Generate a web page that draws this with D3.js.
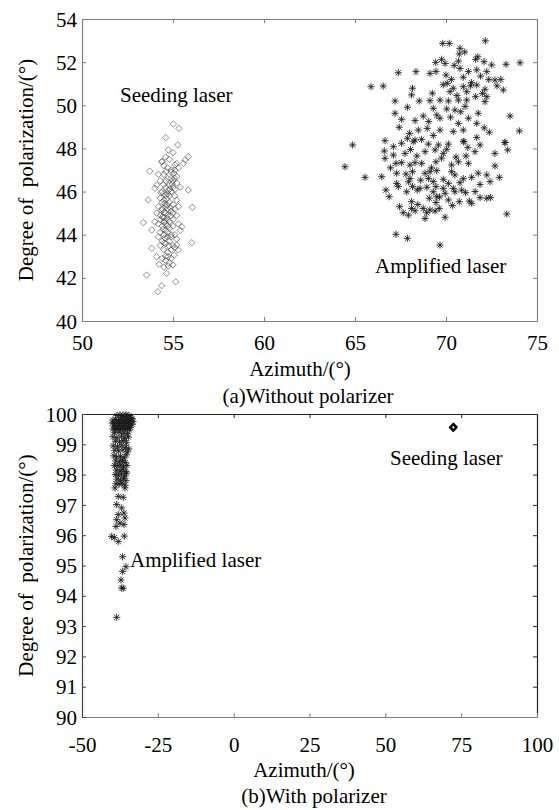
<!DOCTYPE html>
<html>
<head>
<meta charset="utf-8">
<script src="https://cdn.jsdelivr.net/npm/d3@7"></script>
<style>
  body { margin: 0; background: #fff; }
  svg text { font-family: "Liberation Serif", "Times New Roman", serif; fill: #000; }
</style>
</head>
<body>
<svg id="chart" width="559" height="810"></svg>
<script>
// (a) Without polarizer: [azimuth, degree of polarization]
var seedingA = [
  [55.02,49.13],[55.33,48.93],[54.60,48.50],[55.26,48.16],[54.74,47.93],[55.84,47.62],[55.66,47.46],
  [55.57,47.31],[55.11,47.23],[54.38,47.38],[53.72,46.95],[56.06,45.27],[56.03,43.63],[53.37,44.56],
  [53.83,44.22],[53.83,43.37],[55.20,43.52],[53.55,42.13],[55.15,41.82],[54.38,41.64],[54.16,41.36],
  [54.65,42.21],[54.74,42.55],[54.23,42.63],[54.10,42.98],[55.07,43.06],[55.29,43.29],[54.01,46.15],
  [53.64,45.61],[55.84,46.07],[55.48,44.37],
  [54.5,46.8],[54.7,46.6],[54.9,46.9],[55.1,47.0],[55.3,47.1],[55.0,46.5],[55.2,46.7],[54.6,46.2],
  [54.8,46.3],[55.0,46.2],[55.2,46.4],[54.4,46.0],[54.7,45.9],[54.9,46.0],[55.1,45.8],[54.3,45.7],
  [54.5,45.6],[54.8,45.5],[55.0,45.4],[55.2,45.6],[54.2,45.3],[54.4,45.2],[54.6,45.3],[54.9,45.1],
  [55.1,45.2],[54.3,44.9],[54.5,44.8],[54.7,44.9],[55.0,44.7],[55.2,44.9],[54.2,44.5],[54.4,44.4],
  [54.6,44.5],[54.8,44.3],[55.0,44.4],[55.3,44.5],[54.3,44.1],[54.5,44.0],[54.7,44.1],[54.9,43.9],
  [55.1,44.0],[54.4,43.7],[54.6,43.6],[54.8,43.7],[55.0,43.5],[54.5,43.3],[54.7,43.2],[54.9,43.3],
  [54.4,42.9],[54.6,42.8],[54.8,42.7],[54.1,45.0],[54.0,44.6],[54.1,46.3],[54.3,46.5],[54.5,47.2],
  [54.8,47.5],[55.0,47.8],[54.6,47.6],[54.9,47.0],[55.4,46.2],[55.3,45.3],[55.4,44.2],[55.2,43.8],
  [54.3,43.5],[54.2,46.8],[54.6,44.2],[54.7,45.2],[54.5,45.9],[54.6,46.5],[54.8,44.6],[54.4,45.5],
  [54.9,44.0],[54.7,43.9],[55.1,46.1],[54.5,44.6],[54.8,45.8],[54.6,45.0],[54.3,44.7],[55.0,45.0],
  [54.9,46.6],[55.2,47.3],[54.7,47.1],[54.4,47.4],[55.1,43.4],[54.2,43.9],[54.6,43.0],[54.9,42.9],
  [54.5,42.5],[55.0,42.6],[54.55,45.45],[54.65,44.75],[54.75,46.05],[54.45,44.25],[54.85,45.25],
  [54.35,45.95],[54.95,46.35],[54.55,43.85],[55.05,46.85],[54.65,45.65],[54.52,45.05],[54.62,45.82],
  [54.72,44.42],[54.42,44.82],[54.82,46.12],[54.58,44.62],[54.68,45.38],[54.48,46.32],[54.78,43.48],
  [54.38,45.12],[54.88,44.88],[55.08,46.62],[54.62,46.92],[54.52,43.62],[54.72,42.98]
];
var amplifiedA = [
  [69.82,52.87],[70.18,52.87],[72.16,52.99],[70.77,52.64],[70.73,52.38],[71.03,52.47],[69.76,52.13],
  [69.43,51.99],[69.95,51.94],[70.68,52.05],[71.63,52.13],[72.09,52.02],[72.51,51.87],[73.30,51.90],
  [74.07,51.97],[67.38,51.51],[68.35,51.56],[69.12,51.48],[69.45,51.57],[70.00,51.40],[70.77,51.71],
  [71.23,51.56],[71.69,51.64],[72.24,51.56],[65.88,50.86],[66.55,50.89],[70.07,51.02],[70.40,50.79],
  [70.95,50.86],[71.69,50.94],[72.14,50.74],[72.69,51.17],[73.01,51.20],[73.15,50.71],[70.22,50.63],
  [71.14,50.63],[71.63,50.40],[72.24,50.40],[68.16,50.79],[68.11,50.48],[69.25,50.56],[67.20,50.20],
  [68.53,50.20],[69.12,50.21],[69.67,50.24],[70.13,50.20],[70.68,50.24],[71.14,50.24],[72.14,50.17],
  [67.88,49.91],[69.30,49.86],[70.04,49.83],[70.49,49.78],[67.20,49.63],[68.75,49.50],[69.49,49.55],
  [70.81,49.70],[71.77,49.63],[73.52,49.50],[67.56,49.35],[68.30,49.29],[69.67,49.40],[71.23,49.40],
  [70.68,49.16],[71.69,49.16],[67.43,48.98],[68.48,48.85],[68.97,48.93],[69.67,48.85],[70.40,48.78],
  [70.95,48.85],[72.38,48.75],[74.03,48.81],[66.65,48.36],[67.88,48.47],[68.30,48.39],[68.66,48.42],
  [71.69,48.51],[73.24,48.28],[70.99,48.33],
  [70.45,51.85],[70.95,51.30],[71.40,51.05],[71.90,51.35],[72.35,51.20],[70.60,50.45],[71.35,50.90],
  [72.00,50.55],[70.30,51.20],[69.85,50.95],[71.75,52.25],[72.80,50.90],[71.05,49.95],[70.25,49.45],
  [69.05,49.25],[68.00,48.70],[69.30,48.60],[72.10,48.95],[71.20,48.05],[70.55,47.60],[69.75,47.55],
  [68.05,47.95],[66.95,47.10],[67.95,46.45],[68.95,46.20],[69.65,45.75],[70.35,45.35],[68.45,45.40],
  [68.85,44.75],[67.45,45.30],[71.60,46.00],[70.95,46.60],[69.20,47.10],[68.40,47.65],
  [64.87,48.16],[64.45,47.15],[67.11,48.08],[67.56,48.24],[68.20,48.31],[69.03,48.20],[69.58,48.16],
  [70.13,48.20],[70.95,48.31],[71.87,48.16],[73.24,48.27],[66.61,47.88],[67.11,47.69],[67.75,47.77],
  [68.85,47.85],[69.40,47.93],[69.85,47.77],[70.04,47.96],[71.10,47.65],[71.59,47.85],[72.69,47.77],
  [73.39,47.93],[66.65,47.54],[67.25,47.31],[67.56,47.34],[68.02,47.23],[68.30,47.34],[68.66,47.31],
  [69.45,47.38],[70.31,47.23],[70.68,47.38],[71.23,47.31],[72.69,47.19],[65.55,46.66],[66.47,46.69],
  [67.29,46.85],[67.80,46.81],[68.16,46.92],[68.85,46.85],[69.12,46.92],[69.49,46.97],[70.31,46.92],
  [70.49,46.77],[71.41,46.66],[71.77,46.85],[72.24,46.77],[72.93,46.66],[68.02,46.61],[68.61,46.53],
  [69.03,46.61],[69.30,46.46],[69.85,46.57],[70.13,46.38],[70.77,46.41],[72.42,46.46],[67.29,46.38],
  [67.38,46.23],[68.16,46.23],[68.57,46.15],[69.45,46.23],[69.85,46.15],[70.40,46.15],[70.86,46.07],
  [71.87,46.33],[66.70,46.07],[67.84,45.99],[68.42,46.07],[69.30,45.99],[69.95,45.92],[70.49,45.99],
  [71.08,45.95],[66.88,45.76],[69.08,45.69],[69.49,45.76],[70.13,45.61],[70.73,45.53],[71.28,45.56],
  [71.87,45.72],[72.24,45.69],[72.45,45.72],[68.11,45.53],[69.45,45.49],[71.41,45.46],[68.11,45.22],
  [68.30,45.11],[68.75,45.22],[69.12,45.15],[69.63,45.22],[67.65,45.02],[67.93,44.91],[68.94,45.02],
  [69.40,45.10],[69.95,44.81],[73.34,44.96],[67.25,44.02],[67.88,43.83],[69.67,43.52]
];
// (b) With polarizer
var seedingB = [[72.3,99.56],[72.5,99.58],[72.4,99.54]];
var amplifiedB = [
  [-38.5,99.95],[-37.5,99.97],[-36.5,99.96],[-35.5,99.98],[-34.5,99.95],[-37,99.9],[-36,99.92],
  [-35,99.9],[-34,99.88],[-33.5,99.85],[-39.8,99.8],[-39,99.82],[-38,99.78],[-37.2,99.8],[-36.3,99.79],
  [-35.4,99.81],[-34.6,99.77],[-33.8,99.8],[-33.2,99.75],[-40,99.7],[-39.2,99.68],[-38.4,99.72],
  [-37.6,99.7],[-36.8,99.69],[-36,99.71],[-35.2,99.7],[-34.3,99.68],[-33.5,99.66],[-39.5,99.6],
  [-38.7,99.58],[-37.9,99.62],[-37.1,99.6],[-36.4,99.58],[-35.6,99.61],[-34.8,99.59],[-34,99.56],
  [-39.8,99.5],[-39,99.48],[-38.2,99.52],[-37.4,99.49],[-36.6,99.5],[-35.8,99.48],[-35,99.52],
  [-34.3,99.47],[-39.3,99.38],[-37.8,99.4],[-36.2,99.36],[-35.0,99.35],[-39.8,99.25],[-38.5,99.22],
  [-37,99.27],[-35.8,99.2],[-34.7,99.24],[-39.0,99.1],[-37.6,99.08],[-36.4,99.12],[-35.3,99.05],
  [-39.7,98.95],[-38.3,98.92],[-36.9,98.97],[-35.6,98.9],[-39.2,98.8],[-37.9,98.78],[-36.5,98.82],
  [-35.1,98.75],[-34.6,98.85],[-39.5,98.62],[-38.6,98.58],[-37.3,98.6],[-36.1,98.55],[-35.4,98.65],
  [-38.9,98.45],[-37.7,98.42],[-36.7,98.47],[-35.7,98.4],[-39.3,98.3],[-38.2,98.28],[-37.1,98.32],
  [-36.3,98.25],[-35.2,98.3],[-38.7,98.15],[-37.5,98.12],[-36.5,98.18],[-35.6,98.1],[-39,98.0],
  [-38,97.98],[-37,98.02],[-35.9,97.95],[-35.3,98.05],[-38.5,97.85],[-37.4,97.82],[-36.3,97.88],
  [-35.5,97.8],[-38.8,97.7],[-37.8,97.68],[-36.8,97.72],[-35.8,97.65],
  [-39.13,97.56],[-35.84,97.56],[-38.04,97.28],[-36.40,97.25],[-38.57,97.01],[-36.92,96.90],
  [-36.17,96.73],[-38.04,96.68],[-35.84,96.57],[-38.57,96.51],[-37.48,96.40],[-36.17,96.35],
  [-38.80,96.29],[-40.22,95.96],[-39.35,95.92],[-38.04,95.79],[-36.07,95.97],[-36.60,95.29],
  [-35.50,94.96],[-36.60,94.80],[-37.15,94.52],[-36.40,94.25],[-36.92,94.26],[-38.57,93.29]
];
var xTicksA = [50, 55, 60, 65, 70, 75];
var yTicksA = [40, 42, 44, 46, 48, 50, 52, 54];
var xTicksB = [-50, -25, 0, 25, 50, 75, 100];
var yTicksB = [90, 91, 92, 93, 94, 95, 96, 97, 98, 99, 100];

var svg = d3.select("#chart");
var FONT = 21;
var SERIF = '"Liberation Serif", "Times New Roman", serif';

/**
 * Draws one boxed scatter panel
 * @param {Object} p - panel geometry, domains, data and labels
 */
function drawPanel(p) {
  var x = d3.scaleLinear().domain(p.xDomain).range([p.left, p.right]);
  var y = d3.scaleLinear().domain(p.yDomain).range([p.bottom, p.top]);
  var plain = function(d) { return String(d); }; // keep ASCII hyphen for negatives
  var g = svg.append("g");

  // box ticks on top and right (no labels)
  g.append("g")
      .attr("transform", "translate(0," + p.top + ")")
      .call(d3.axisTop(x).tickValues(p.xTicks).tickSizeInner(-4).tickSizeOuter(0).tickFormat(""))
      .call(styleAxis, p.farColor);
  g.append("g")
      .attr("transform", "translate(" + p.right + ",0)")
      .call(d3.axisRight(y).tickValues(p.yTicks).tickSizeInner(-4).tickSizeOuter(0).tickFormat(""))
      .call(styleAxis, p.farColor);

  // labelled axes
  g.append("g")
      .attr("transform", "translate(0," + p.bottom + ")")
      .call(d3.axisBottom(x).tickValues(p.xTicks).tickFormat(plain)
        .tickSizeInner(-4).tickSizeOuter(0).tickPadding(p.xPad))
      .call(styleAxis, "#808080");
  g.append("g")
      .attr("transform", "translate(" + p.left + ",0)")
      .call(d3.axisLeft(y).tickValues(p.yTicks).tickFormat(plain)
        .tickSizeInner(-4).tickSizeOuter(0).tickPadding(5))
      .call(styleAxis, p.leftColor)
    .selectAll("text").attr("dy", "0.34em");

  // markers
  var diamond = "M0,-3.2L3.2,0L0,3.2L-3.2,0Z";
  var star = "M-3.6,0H3.6M0,-3.6V3.6M-2.6,-2.6L2.6,2.6M-2.6,2.6L2.6,-2.6";

  g.selectAll(".seed")
      .data(p.seeding)
      .enter()
    .append("path")
      .attr("class", "seed")
      .attr("transform", function(d) { return "translate(" + x(d[0]) + "," + y(d[1]) + ")"; })
      .attr("d", diamond)
      .attr("fill", "none")
      .attr("stroke", p.seedColor)
      .attr("stroke-width", p.seedWidth)
      .attr("stroke-opacity", p.seedOpacity);

  g.selectAll(".amp")
      .data(p.amplified)
      .enter()
    .append("path")
      .attr("class", "amp")
      .attr("transform", function(d) { return "translate(" + x(d[0]) + "," + y(d[1]) + ")"; })
      .attr("d", star)
      .attr("fill", "none")
      .attr("stroke", "#1a1a1a")
      .attr("stroke-width", 1)
      .attr("stroke-opacity", 0.85);

  // annotations
  p.notes.forEach(function(n) {
    addText(g, n.text).attr("x", n.x).attr("y", n.y);
  });

  // axis titles and caption
  addText(g, "Degree of\u00a0\u00a0polarization/(\u00b0)")
      .attr("transform", "translate(33," + ((p.top + p.bottom) / 2) + ") rotate(-90)")
      .attr("text-anchor", "middle");
  addText(g, "Azimuth/(\u00b0)")
      .attr("x", p.xTitleX).attr("y", p.xTitleY)
      .attr("text-anchor", "middle");
  addText(g, p.caption)
      .attr("x", p.captionX).attr("y", p.captionY)
      .attr("text-anchor", "middle");
}

/** Appends a serif text element */
function addText(g, str) {
  return g.append("text")
      .style("font-family", SERIF)
      .style("font-size", FONT + "px")
      .text(str);
}

/** Applies the thin box style to an axis group */
function styleAxis(sel, color) {
  sel.attr("font-family", null).attr("font-size", null);
  sel.select(".domain").attr("stroke", color).attr("stroke-width", 1.2);
  sel.selectAll(".tick line").attr("stroke", color).attr("stroke-width", 1);
  sel.selectAll(".tick text")
      .style("font-family", SERIF)
      .style("font-size", FONT + "px")
      .attr("fill", "#000");
}

drawPanel({
  left: 82, right: 537, top: 19, bottom: 321,
  xDomain: [50, 75], yDomain: [40, 54],
  xTicks: xTicksA, yTicks: yTicksA, xPad: 14,
  farColor: "#808080", leftColor: "#808080",
  seeding: seedingA, amplified: amplifiedA,
  seedColor: "#3a3a3a", seedWidth: 0.8, seedOpacity: 0.7,
  notes: [{x: 120, y: 102, text: "Seeding laser"}, {x: 375, y: 273, text: "Amplified laser"}],
  xTitleX: 300, xTitleY: 376,
  captionX: 308, captionY: 403, caption: "(a)Without polarizer"
});

drawPanel({
  left: 82, right: 537, top: 414, bottom: 717,
  xDomain: [-50, 100], yDomain: [90, 100],
  xTicks: xTicksB, yTicks: yTicksB, xPad: 20,
  farColor: "#222", leftColor: "#444",
  seeding: seedingB, amplified: amplifiedB,
  seedColor: "#000", seedWidth: 1.6, seedOpacity: 1,
  notes: [{x: 130, y: 567, text: "Amplified laser"}, {x: 390, y: 465, text: "Seeding laser"}],
  xTitleX: 304, xTitleY: 777,
  captionX: 314, captionY: 803, caption: "(b)With polarizer"
});
</script>
</body>
</html>
